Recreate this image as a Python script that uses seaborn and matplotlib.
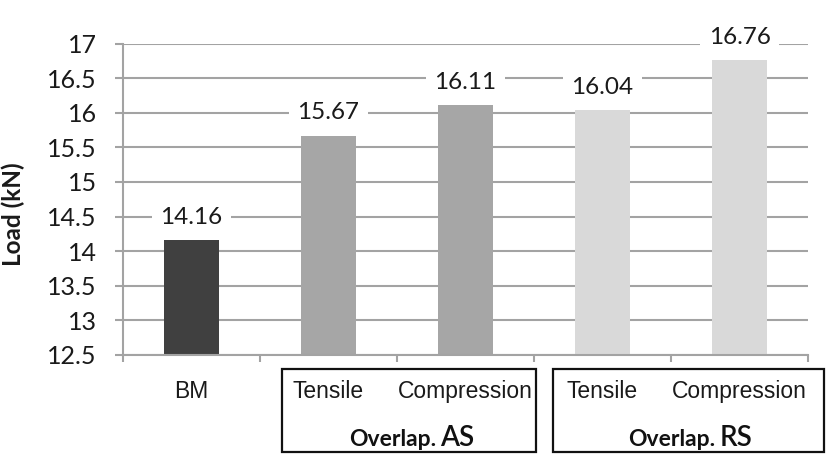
import numpy as np
import pandas as pd
import matplotlib
matplotlib.use("Agg")
import matplotlib.pyplot as plt
import seaborn as sns
from matplotlib.patches import Rectangle
from matplotlib.transforms import blended_transform_factory

# Maximum load for the base metal and the overlap joints (AS / RS side)
categories = ["BM", "AS-Tensile", "AS-Compression", "RS-Tensile", "RS-Compression"]
tick_labels = ["BM", "Tensile", "Compression", "Tensile", "Compression"]
loads = [14.16, 15.67, 16.11, 16.04, 16.76]
bar_colors = ["#404040", "#a6a6a6", "#a6a6a6", "#d9d9d9", "#d9d9d9"]
y_ticks = [12.5, 13, 13.5, 14, 14.5, 15, 15.5, 16, 16.5, 17]
group_prefix = "Overlap."
group_names = ["AS", "RS"]

sns.set_theme(style="white")
plt.rcParams["font.family"] = ["Lato", "DejaVu Sans"]

grid_c = "#a3a3a3"
text_c = "#1a1a1a"

fig = plt.figure(figsize=(8.38, 4.55), dpi=100)
ax = fig.add_axes([123 / 838, 1 - 355 / 455, 685 / 838, 311.5 / 455])

df = pd.DataFrame({"key": categories, "load": loads})
sns.barplot(data=df, x="key", y="load", hue="key", palette=bar_colors,
            width=0.4, dodge=False, legend=False, saturation=1, ax=ax,
            edgecolor="none")

ax.set_xlim(-0.5, 4.5)
ax.set_ylim(12.5, 17)

# y axis: gridlines, outward gray ticks
ax.set_yticks(y_ticks)
ax.set_yticklabels([f"{v:g}" for v in y_ticks])
ax.yaxis.grid(True, color=grid_c, lw=1.5)
ax.set_axisbelow(True)
ax.tick_params(axis="y", length=6, width=1.5, color=grid_c, pad=13,
               labelsize=18, labelcolor=text_c, left=True)

for side in ("top", "right"):
    ax.spines[side].set_visible(False)
for side in ("left", "bottom"):
    ax.spines[side].set_color(grid_c)
    ax.spines[side].set_linewidth(1.5)

# x axis: category labels, boundary ticks between categories
ax.set_xticks(range(len(categories)))
ax.set_xticklabels(tick_labels, fontfamily=["Liberation Sans", "DejaVu Sans"],
                   fontsize=16.5, color=text_c)
ax.set_xticks(np.arange(-0.5, len(categories), 1.0), minor=True)
ax.tick_params(axis="x", which="major", length=0, pad=18)
ax.tick_params(axis="x", which="minor", length=5, width=1.5, color=grid_c,
               bottom=True)
ax.set_xlabel("")

ax.set_ylabel("Load (kN)", fontsize=17.5, fontweight="bold", color=text_c)
ax.yaxis.set_label_coords(-0.143, 0.453)

# value labels above the bars
for i, v in enumerate(loads):
    ax.annotate(f"{v:.2f}", (i, v), xytext=(0, 16.5), textcoords="offset points",
                ha="center", va="center", fontsize=17.5, color=text_c,
                bbox=dict(boxstyle="square,pad=0.35", fc="white", ec="none"),
                zorder=5)

# group boxes under the tick labels
trans = blended_transform_factory(ax.transData, fig.transFigure)
boxes = [(0.661, 2.515), (2.639, 4.617)]
for (x0, x1), name in zip(boxes, group_names):
    ax.add_patch(Rectangle((x0, 0.0066), x1 - x0, 0.1824, transform=trans,
                           fill=False, ec="#111111", lw=1.6, clip_on=False))
    split = (x0 + x1) / 2 + 0.21
    ax.text(split - 0.015, 0.0198, group_prefix, transform=trans, ha="right",
            va="baseline", fontsize=16.5, fontweight="bold", color="#111111")
    ax.text(split + 0.015, 0.0198, name, transform=trans, ha="left",
            va="baseline", fontsize=20, fontweight="semibold", color="#111111")

fig.savefig("out.png", dpi=100)
